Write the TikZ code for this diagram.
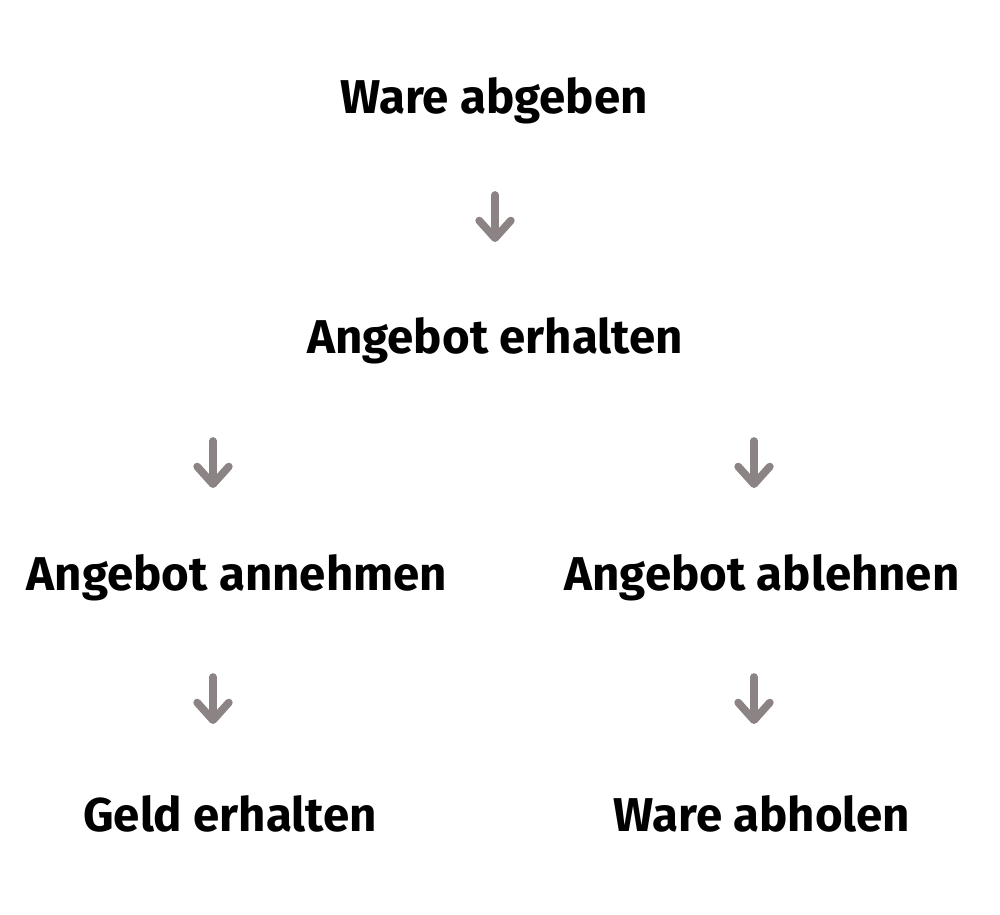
\documentclass[tikz,border=0pt]{standalone}
\usepackage{fontspec}
\setmainfont{Fira Sans}
\usetikzlibrary{arrows.meta}
\definecolor{arrgray}{RGB}{140,132,132}
\tikzset{
  lbl/.style={font=\fontsize{27}{32}\selectfont\bfseries, text=black, inner sep=0pt},
  arr/.style={draw=arrgray, line width=4.4pt, line cap=round,
    -{Straight Barb[length=10pt, width=18pt, line cap=round, line join=round]}}
}
\begin{document}
\begin{tikzpicture}[x=0.02cm, y=-0.02cm]
\useasboundingbox (0,0) rectangle (1000,914);
\node[lbl] (n1) at (494,101) {Ware abgeben};
\node[lbl] (n2) at (495,341) {Angebot erhalten};
\node[lbl] (n3) at (237,578) {Angebot annehmen};
\node[lbl] (n4) at (762,578) {Angebot ablehnen};
\node[lbl] (n5) at (230,814) {Geld erhalten};
\node[lbl] (n6) at (762,814) {Ware abholen};
\coordinate (a1s) at (495,195); \coordinate (a1e) at (495,242);
\coordinate (a2s) at (213,441); \coordinate (a2e) at (213,488);
\coordinate (a3s) at (754,441); \coordinate (a3e) at (754,488);
\coordinate (a4s) at (213,677); \coordinate (a4e) at (213,724);
\coordinate (a5s) at (754,677); \coordinate (a5e) at (754,724);
\draw[arr] (a1s) -- (a1e);
\draw[arr] (a2s) -- (a2e);
\draw[arr] (a3s) -- (a3e);
\draw[arr] (a4s) -- (a4e);
\draw[arr] (a5s) -- (a5e);
\end{tikzpicture}
\end{document}
